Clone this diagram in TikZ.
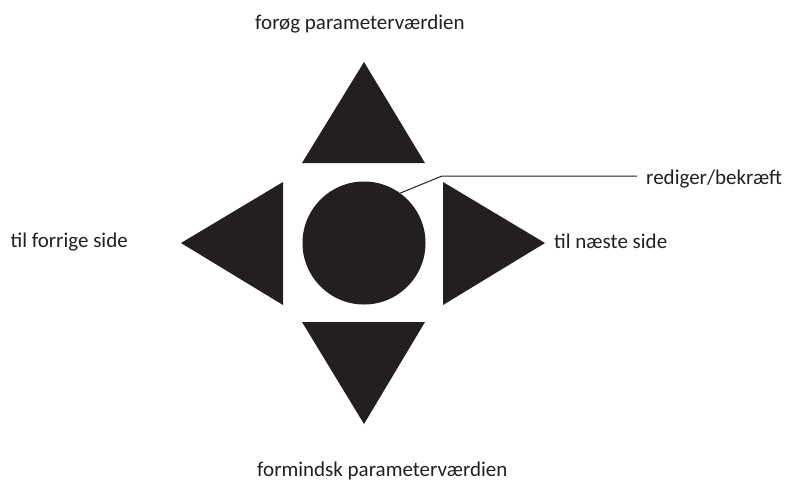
\documentclass[tikz,border=0pt]{standalone}
\usepackage{fontspec}
\setmainfont{Carlito}
\definecolor{ink}{HTML}{231F20}
\begin{document}
\begin{tikzpicture}[x=1pt,y=-1pt,
  shapefill/.style={fill=ink,draw=none},
  lbl/.style={font=\fontsize{21}{25}\selectfont,text=ink,inner sep=0pt},
  leader/.style={draw=ink,line width=1pt}]
\useasboundingbox (0,0) rectangle (786,483);
% up triangle
\path[shapefill] (364,62) -- (425,163) -- (302,163) -- cycle;
% down triangle
\path[shapefill] (302,322) -- (425,322) -- (364,424) -- cycle;
% left triangle
\path[shapefill] (181,243) -- (283,182) -- (283,305) -- cycle;
% right triangle
\path[shapefill] (443,182) -- (545,243) -- (443,305) -- cycle;
% circle
\node[circle,shapefill,minimum size=123pt,inner sep=0pt] (btn) at (364,243) {};
% labels
\node[lbl,anchor=base west] (up) at (255,29) {forøg parameterværdien};
\node[lbl,anchor=base west] (down) at (257,476) {formindsk parameterværdien};
\node[lbl,anchor=base east] (left) at (128,247) {til forrige side};
\node[lbl,anchor=base west] (right) at (554,248) {til næste side};
\node[lbl,anchor=base west] (edit) at (646,184) {rediger/bekræft};
\coordinate (bend) at (442,176);
\coordinate (lend) at (637,176);
\draw[leader] (btn.{54}) -- (bend) -- (lend);
\end{tikzpicture}
\end{document}
